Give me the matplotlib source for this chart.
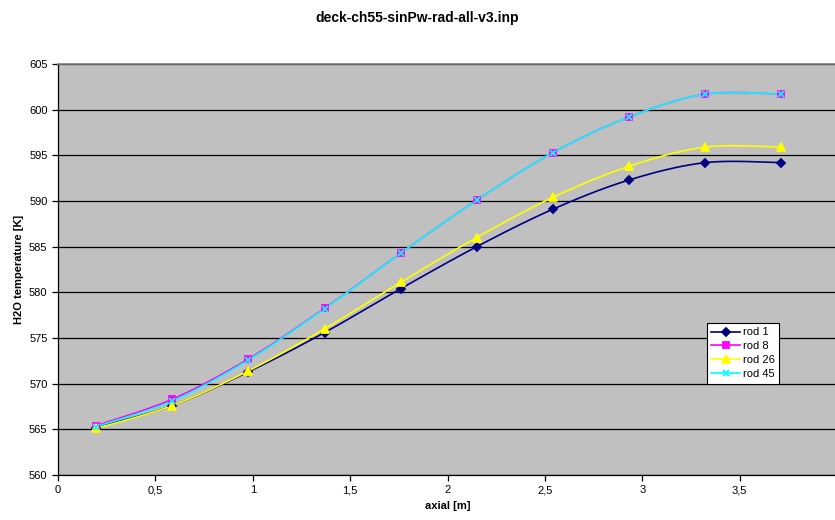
import matplotlib
matplotlib.use("Agg")
import matplotlib.pyplot as plt
import numpy as np
from matplotlib.ticker import FuncFormatter, MultipleLocator

plt.rcParams["font.family"] = ["Liberation Sans", "DejaVu Sans"]

axial = [0.196, 0.587, 0.978, 1.369, 1.760, 2.150, 2.541, 2.932, 3.323, 3.714]
rod_1 = [565.2, 567.6, 571.3, 575.6, 580.4, 585.0, 589.1, 592.3, 594.2, 594.2]
rod_8 = [565.4, 568.3, 572.7, 578.25, 584.3, 590.1, 595.3, 599.2, 601.7, 601.7]
rod_26 = [565.1, 567.6, 571.4, 576.0, 581.1, 586.0, 590.4, 593.8, 595.9, 595.9]
rod_45 = [565.3, 568.1, 572.6, 578.2, 584.3, 590.1, 595.3, 599.2, 601.7, 601.7]
x_ticks = [0, 0.5, 1, 1.5, 2, 2.5, 3, 3.5]


def smooth(x, y, steps=30):
    # Catmull-Rom curve through the points, like a spreadsheet "smoothed line"
    x = np.asarray(x, float)
    y = np.asarray(y, float)
    px = np.concatenate([[x[0]], x, [x[-1]]])
    py = np.concatenate([[y[0]], y, [y[-1]]])
    t = np.linspace(0, 1, steps)
    xs, ys = [], []
    for i in range(1, len(px) - 2):
        for p, out in ((px, xs), (py, ys)):
            p0, p1, p2, p3 = p[i - 1], p[i], p[i + 1], p[i + 2]
            out.append(0.5 * ((2 * p1) + (-p0 + p2) * t
                              + (2 * p0 - 5 * p1 + 4 * p2 - p3) * t ** 2
                              + (-p0 + 3 * p1 - 3 * p2 + p3) * t ** 3))
    return np.concatenate(xs), np.concatenate(ys)


series = [
    ("rod 1", rod_1, "#000080", "D", 4.5),
    ("rod 8", rod_8, "#FF00FF", "s", 5),
    ("rod 26", rod_26, "#FFFF00", "^", 6),
    ("rod 45", rod_45, "#00FFFF", "x", 5),
]

fig = plt.figure(figsize=(8.35, 5.2), dpi=100)
ax = fig.add_axes([58 / 835, 45 / 520, 779 / 835, 411 / 520])
ax.set_facecolor("#C0C0C0")

for label, values, color, marker, size in series:
    sx, sy = smooth(axial, values)
    ax.plot(sx, sy, color=color, linewidth=1.2, zorder=3)
    ax.plot(axial, values, linestyle="none", marker=marker, markersize=size,
            color=color, markeredgecolor=color, markeredgewidth=1.3, zorder=4)
    ax.plot([], [], color=color, linewidth=1.2, marker=marker, markersize=size,
            markeredgewidth=1.3, label=label)

ax.set_xlim(0, 4)
ax.set_ylim(560, 605)
ax.set_xticks(x_ticks)
ax.yaxis.set_major_locator(MultipleLocator(5))
ax.xaxis.set_major_formatter(FuncFormatter(lambda v, _: f"{v:g}".replace(".", ",")))
ax.yaxis.grid(True, color="black", linewidth=0.9)
ax.set_axisbelow(True)
ax.tick_params(labelsize=8, direction="out", length=4, width=0.9, colors="black")

ax.spines["top"].set_color("#808080")
ax.spines["top"].set_linewidth(1.2)
ax.spines["right"].set_visible(False)
for side in ("left", "bottom"):
    ax.spines[side].set_color("black")
    ax.spines[side].set_linewidth(0.9)

ax.set_xlabel("axial [m]", fontsize=8, fontweight="bold", labelpad=4)
ax.set_ylabel("H2O temperature [K]", fontsize=8, fontweight="bold", labelpad=4)
fig.text(417 / 835, 1 - 18 / 520, "deck-ch55-sinPw-rad-all-v3.inp",
         ha="center", va="center", fontsize=10, fontweight="bold")

legend = ax.legend(loc="upper left", bbox_to_anchor=((707 - 58) / 779, (475 - 323) / 411),
                   fontsize=8, frameon=True, fancybox=False, borderpad=0.4,
                   labelspacing=0.35, handlelength=2.6, handletextpad=0.2,
                   borderaxespad=0)
legend.get_frame().set_edgecolor("black")
legend.get_frame().set_linewidth(0.8)
legend.get_frame().set_facecolor("white")
legend.get_frame().set_alpha(1)

fig.savefig("out.png", dpi=100)
